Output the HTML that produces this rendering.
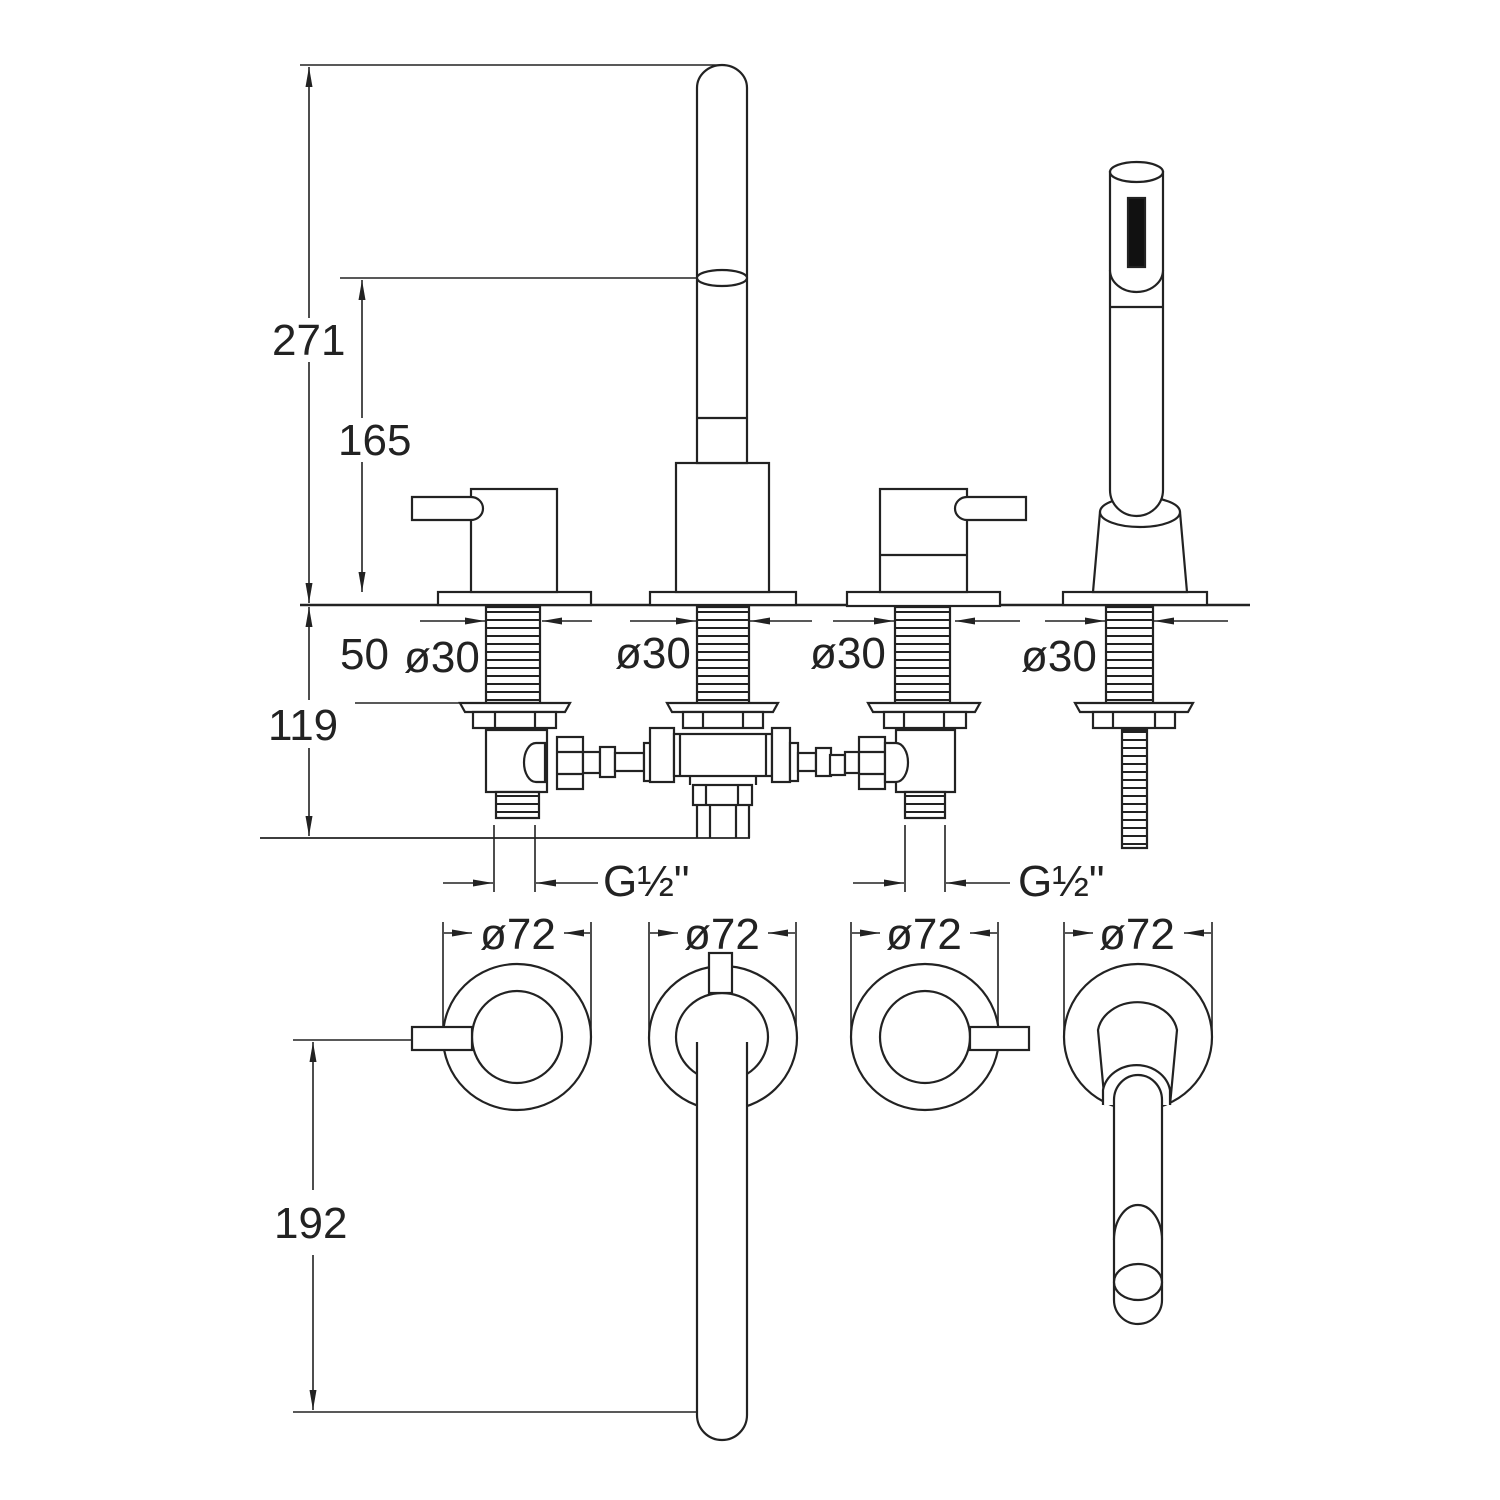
<!DOCTYPE html>
<html><head><meta charset="utf-8"><style>
html,body{margin:0;padding:0;background:#fff}
svg{display:block}
text{font-family:"Liberation Sans",sans-serif;font-size:44px;fill:#222}
</style></head><body>
<svg width="1500" height="1500" viewBox="0 0 1500 1500" xmlns="http://www.w3.org/2000/svg">
<defs>
<marker id="a" viewBox="0 0 20 8" refX="20" refY="4" markerWidth="20" markerHeight="8" markerUnits="userSpaceOnUse" orient="auto-start-reverse"><path d="M0,0.5 L20,4 L0,7.5z" fill="#222"/></marker>
<pattern id="th" width="10" height="8" patternUnits="userSpaceOnUse"><rect width="10" height="8" fill="#fff"/><line x1="0" y1="4" x2="10" y2="4" stroke="#222" stroke-width="2"/></pattern>
</defs>
<g fill="none" stroke="#222" stroke-width="2.2">
<line x1="300" y1="65" x2="720" y2="65" stroke-width="1.6"/>
<line x1="340" y1="278" x2="697" y2="278" stroke-width="1.6"/>
<line x1="309" y1="67" x2="309" y2="318" marker-start="url(#a)" stroke-width="1.6"/>
<line x1="309" y1="362" x2="309" y2="603" marker-end="url(#a)" stroke-width="1.6"/>
<line x1="362" y1="280" x2="362" y2="418" marker-start="url(#a)" stroke-width="1.6"/>
<line x1="362" y1="462" x2="362" y2="592" marker-end="url(#a)" stroke-width="1.6"/>
<line x1="300" y1="605" x2="1250" y2="605" stroke-width="2.4"/>
<line x1="309" y1="607" x2="309" y2="700" marker-start="url(#a)" stroke-width="1.6"/>
<line x1="309" y1="748" x2="309" y2="836" marker-end="url(#a)" stroke-width="1.6"/>
<line x1="355" y1="703" x2="470" y2="703" stroke-width="1.6"/>
<line x1="260" y1="838" x2="750" y2="838" stroke-width="1.8"/>
<line x1="293" y1="1040" x2="412" y2="1040" stroke-width="1.6"/>
<line x1="293" y1="1412" x2="697" y2="1412" stroke-width="1.6"/>
<line x1="313" y1="1042" x2="313" y2="1190" marker-start="url(#a)" stroke-width="1.6"/>
<line x1="313" y1="1255" x2="313" y2="1410" marker-end="url(#a)" stroke-width="1.6"/>

<g stroke-width="1.6">
<line x1="420" y1="621" x2="485" y2="621" marker-end="url(#a)"/><line x1="592" y1="621" x2="542" y2="621" marker-end="url(#a)"/>
<line x1="630" y1="621" x2="696" y2="621" marker-end="url(#a)"/><line x1="812" y1="621" x2="750" y2="621" marker-end="url(#a)"/>
<line x1="833" y1="621" x2="894" y2="621" marker-end="url(#a)"/><line x1="1020" y1="621" x2="955" y2="621" marker-end="url(#a)"/>
<line x1="1045" y1="621" x2="1105" y2="621" marker-end="url(#a)"/><line x1="1228" y1="621" x2="1154" y2="621" marker-end="url(#a)"/>
<line x1="494" y1="825" x2="494" y2="892"/><line x1="535" y1="825" x2="535" y2="892"/>
<line x1="443" y1="883" x2="493" y2="883" marker-end="url(#a)"/><line x1="598" y1="883" x2="536" y2="883" marker-end="url(#a)"/>
<line x1="905" y1="825" x2="905" y2="892"/><line x1="945" y1="825" x2="945" y2="892"/>
<line x1="853" y1="883" x2="904" y2="883" marker-end="url(#a)"/><line x1="1010" y1="883" x2="946" y2="883" marker-end="url(#a)"/>
<line x1="443" y1="922" x2="443" y2="1040"/><line x1="591" y1="922" x2="591" y2="1040"/>
<line x1="444" y1="933" x2="472" y2="933" marker-end="url(#a)"/><line x1="590" y1="933" x2="564" y2="933" marker-end="url(#a)"/>
<line x1="649" y1="922" x2="649" y2="1040"/><line x1="796" y1="922" x2="796" y2="1040"/>
<line x1="650" y1="933" x2="678" y2="933" marker-end="url(#a)"/><line x1="795" y1="933" x2="768" y2="933" marker-end="url(#a)"/>
<line x1="851" y1="922" x2="851" y2="1040"/><line x1="998" y1="922" x2="998" y2="1040"/>
<line x1="852" y1="933" x2="880" y2="933" marker-end="url(#a)"/><line x1="997" y1="933" x2="970" y2="933" marker-end="url(#a)"/>
<line x1="1064" y1="922" x2="1064" y2="1040"/><line x1="1212" y1="922" x2="1212" y2="1040"/>
<line x1="1065" y1="933" x2="1093" y2="933" marker-end="url(#a)"/><line x1="1211" y1="933" x2="1184" y2="933" marker-end="url(#a)"/>
</g>

<g fill="#fff">
<rect x="438" y="592" width="153" height="13"/>
<rect x="471" y="489" width="86" height="103"/>
<path d="M471,497 L412,497 L412,520 L471,520 A12,11.5 0 0 0 471,497z"/>
<rect x="650" y="592" width="146" height="13"/>
<rect x="676" y="463" width="93" height="129"/>
<path d="M697,463 L697,88 A25,23 0 0 1 747,88 L747,463z"/>
<line x1="697" y1="418" x2="747" y2="418"/>
<ellipse cx="722" cy="278" rx="25" ry="8"/>
<rect x="847" y="592" width="153" height="14"/>
<rect x="880" y="489" width="87" height="103"/>
<line x1="880" y1="555" x2="967" y2="555"/>
<path d="M967,497 L1026,497 L1026,520 L967,520 A12,11.5 0 0 1 967,497z"/>
<rect x="1063" y="592" width="144" height="13"/>
<path d="M1093,592 L1100,512 L1180,512 L1187,592z"/>
<ellipse cx="1140" cy="512" rx="40" ry="15"/>
<path d="M1110,172 L1110,490 A26.5,26 0 0 0 1163,490 L1163,172z"/>
<ellipse cx="1136.5" cy="172" rx="26.5" ry="10"/>
<path d="M1110,270 A26.5,22 0 0 0 1163,270" />
<line x1="1110" y1="307" x2="1163" y2="307"/>
<rect x="1128" y="198" width="17" height="69" fill="#111"/>

<rect x="486" y="607" width="54" height="96" fill="url(#th)"/>
<rect x="697" y="607" width="52" height="96" fill="url(#th)"/>
<rect x="895" y="607" width="55" height="96" fill="url(#th)"/>
<rect x="1106" y="607" width="47" height="96" fill="url(#th)"/>
<path d="M460,703 L570,703 L565,712 L465,712z"/>
<path d="M667,703 L778,703 L773,712 L672,712z"/>
<path d="M868,703 L980,703 L975,712 L873,712z"/>
<path d="M1075,703 L1193,703 L1188,712 L1080,712z"/>
<rect x="473" y="712" width="83" height="16"/><line x1="495" y1="712" x2="495" y2="728"/><line x1="535" y1="712" x2="535" y2="728"/>
<rect x="683" y="712" width="80" height="16"/><line x1="703" y1="712" x2="703" y2="728"/><line x1="743" y1="712" x2="743" y2="728"/>
<rect x="884" y="712" width="82" height="16"/><line x1="904" y1="712" x2="904" y2="728"/><line x1="944" y1="712" x2="944" y2="728"/>
<rect x="1093" y="712" width="82" height="16"/><line x1="1113" y1="712" x2="1113" y2="728"/><line x1="1155" y1="712" x2="1155" y2="728"/>
<rect x="486" y="730" width="61" height="62"/>
<rect x="496" y="792" width="43" height="26" fill="url(#th)"/>
<path d="M545,743 L536,743 A12,19.5 0 0 0 536,782 L545,782z"/>
<rect x="557" y="737" width="26" height="52"/><line x1="557" y1="752" x2="583" y2="752"/><line x1="557" y1="774" x2="583" y2="774"/>
<rect x="583" y="752" width="17" height="21"/>
<rect x="600" y="747" width="15" height="30"/>
<rect x="615" y="753" width="29" height="18"/>
<rect x="644" y="743" width="8" height="38"/>
<rect x="650" y="728" width="24" height="54"/>
<rect x="674" y="734" width="98" height="42"/><line x1="680" y1="734" x2="680" y2="776"/><line x1="766" y1="734" x2="766" y2="776"/>
<rect x="772" y="728" width="18" height="54"/>
<rect x="693" y="785" width="59" height="20"/><line x1="706" y1="785" x2="706" y2="805"/><line x1="738" y1="785" x2="738" y2="805"/>
<path d="M697,805 L697,838 M749,805 L749,838 M710,805 L710,838 M736,805 L736,838"/>
<line x1="690" y1="776" x2="690" y2="785"/><line x1="756" y1="776" x2="756" y2="785"/>
<rect x="790" y="743" width="8" height="38"/>
<rect x="798" y="753" width="18" height="18"/>
<rect x="816" y="748" width="15" height="28"/>
<rect x="830" y="755" width="15" height="20"/>
<rect x="845" y="752" width="14" height="21"/>
<rect x="896" y="730" width="59" height="62"/>
<rect x="905" y="792" width="40" height="26" fill="url(#th)"/>
<rect x="859" y="737" width="26" height="52"/><line x1="859" y1="752" x2="885" y2="752"/><line x1="859" y1="774" x2="885" y2="774"/>
<path d="M885,743 L896,743 A12,19.5 0 0 1 896,782 L885,782z"/>
<rect x="1122" y="730" width="25" height="118" fill="url(#th)"/>
</g>

<g fill="#fff">
<ellipse cx="517" cy="1037" rx="74" ry="73"/>
<ellipse cx="517" cy="1037" rx="45" ry="46"/>
<rect x="412" y="1027" width="60" height="23"/>
<ellipse cx="723" cy="1038" rx="74" ry="72"/>
<ellipse cx="722" cy="1037" rx="46" ry="44"/>
<rect x="709" y="953" width="23" height="40"/>
<path d="M697,1042 L697,1415 A25,25 0 0 0 747,1415 L747,1042"/>
<ellipse cx="925" cy="1037" rx="74" ry="73"/>
<ellipse cx="925" cy="1037" rx="45" ry="46"/>
<rect x="970" y="1027" width="59" height="23"/>
<ellipse cx="1138" cy="1037" rx="74" ry="73"/>
<path d="M1105,1105 L1098,1030 A40,33 0 0 1 1177,1030 L1170,1105"/>
<path d="M1103,1105 L1103,1090 A34,30 0 0 1 1170,1090 L1170,1105"/>
<path d="M1114,1300 L1114,1100 A24,25 0 0 1 1162,1100 L1162,1300 A24,24 0 0 1 1114,1300z"/>
<path d="M1114,1240 A24,35 0 0 1 1162,1240"/>
<ellipse cx="1138" cy="1282" rx="24" ry="18"/>
</g>
</g>

<text x="272" y="355">271</text>
<text x="338" y="455">165</text>
<text x="340" y="669">50</text>
<text x="404" y="672">ø30</text>
<text x="615" y="668">ø30</text>
<text x="810" y="668">ø30</text>
<text x="1021" y="671">ø30</text>
<text x="268" y="740">119</text>
<text x="603" y="896">G½"</text>
<text x="1018" y="896">G½"</text>
<text x="480" y="949">ø72</text>
<text x="684" y="949">ø72</text>
<text x="886" y="949">ø72</text>
<text x="1099" y="949">ø72</text>
<text x="274" y="1238">192</text>
</svg>
</body></html>
